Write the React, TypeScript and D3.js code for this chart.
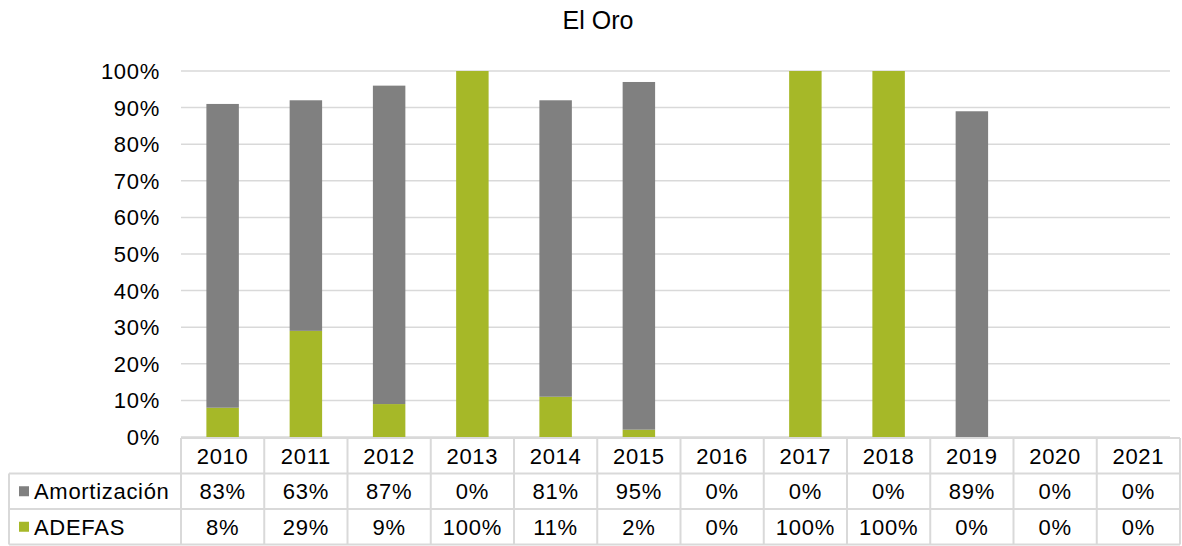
import React from 'react';
import * as d3 from 'd3';

const years = ['2010', '2011', '2012', '2013', '2014', '2015', '2016', '2017', '2018', '2019', '2020', '2021'];
const amortizacion = [83, 63, 87, 0, 81, 95, 0, 0, 0, 89, 0, 0];
const adefas = [8, 29, 9, 100, 11, 2, 0, 100, 100, 0, 0, 0];
const yTicks = [0, 10, 20, 30, 40, 50, 60, 70, 80, 90, 100];

const GRAY = '#808080';
const GREEN = '#a6b828';
const LINE = '#d9d9d9';
const FONT = 'Liberation Sans, Arial, sans-serif';

export default function App() {
  const width = 1182;
  const height = 546;
  const left = 181, right = 1180, top = 71, bottom = 437;

  const x = d3.scaleBand().domain(years).range([left, right]).paddingInner(0.61).paddingOuter(0.305);
  const cols = d3.scaleBand().domain(years).range([left, right]);
  const y = d3.scaleLinear().domain([0, 100]).range([bottom, top]);

  const series = [
    { name: 'Amortización', values: amortizacion, color: GRAY },
    { name: 'ADEFAS', values: adefas, color: GREEN },
  ];

  const rowTop = 438;
  const rowH = 35.5;
  const tableLeft = 9;
  const fs = 22;
  const ls = 0.7;

  return (
    <svg width={width} height={height} style={{ position: 'absolute', left: 0, top: 0 }} fontFamily={FONT}>
      <rect width={width} height={height} fill="#fff" />
      <text x={598} y={29} textAnchor="middle" fontSize={25} fill="#000">El Oro</text>

      {/* grid lines */}
      {yTicks.map(t => (
        <line key={t} x1={left} x2={right - 10} y1={y(t)} y2={y(t)} stroke={LINE} strokeWidth={1.5} />
      ))}
      {yTicks.map(t => (
        <text key={'l' + t} x={160} y={y(t)} dy="0.36em" textAnchor="end" fontSize={fs} letterSpacing={ls} fill="#000">{t}%</text>
      ))}

      {/* stacked bars: ADEFAS at bottom, Amortización above */}
      {years.map((yr, i) => {
        const a = adefas[i];
        const m = amortizacion[i];
        return (
          <g key={yr}>
            {a > 0 && <rect x={x(yr)} width={x.bandwidth()} y={y(a)} height={y(0) - y(a)} fill={GREEN} />}
            {m > 0 && <rect x={x(yr)} width={x.bandwidth()} y={y(a + m)} height={y(a) - y(a + m)} fill={GRAY} />}
          </g>
        );
      })}

      {/* data table */}
      <g stroke={LINE} strokeWidth={2} fill="none">
        <line x1={left} x2={right} y1={rowTop} y2={rowTop} />
        <line x1={tableLeft} x2={right} y1={rowTop + rowH} y2={rowTop + rowH} />
        <line x1={tableLeft} x2={right} y1={rowTop + rowH * 2} y2={rowTop + rowH * 2} />
        <line x1={tableLeft} x2={right} y1={rowTop + rowH * 3} y2={rowTop + rowH * 3} />
        <line x1={tableLeft} x2={tableLeft} y1={rowTop + rowH} y2={rowTop + rowH * 3} />
        {years.map(yr => (
          <line key={yr} x1={cols(yr)} x2={cols(yr)} y1={rowTop} y2={rowTop + rowH * 3} />
        ))}
        <line x1={right} x2={right} y1={rowTop} y2={rowTop + rowH * 3} />
      </g>
      {years.map(yr => (
        <text key={'h' + yr} x={(cols(yr) as number) + cols.bandwidth() / 2} y={rowTop + rowH / 2} dy="0.36em" textAnchor="middle" fontSize={fs} letterSpacing={ls} fill="#000">{yr}</text>
      ))}
      {series.map((s, r) => {
        const cy = rowTop + rowH * (r + 1) + rowH / 2;
        return (
          <g key={s.name}>
            <rect x={19} y={cy - 5} width={10} height={10} fill={s.color} />
            <text x={34} y={cy} dy="0.36em" fontSize={fs} letterSpacing={ls} fill="#000">{s.name}</text>
            {years.map((yr, i) => (
              <text key={yr} x={(cols(yr) as number) + cols.bandwidth() / 2} y={cy} dy="0.36em" textAnchor="middle" fontSize={fs} letterSpacing={ls} fill="#000">{s.values[i]}%</text>
            ))}
          </g>
        );
      })}
    </svg>
  );
}
